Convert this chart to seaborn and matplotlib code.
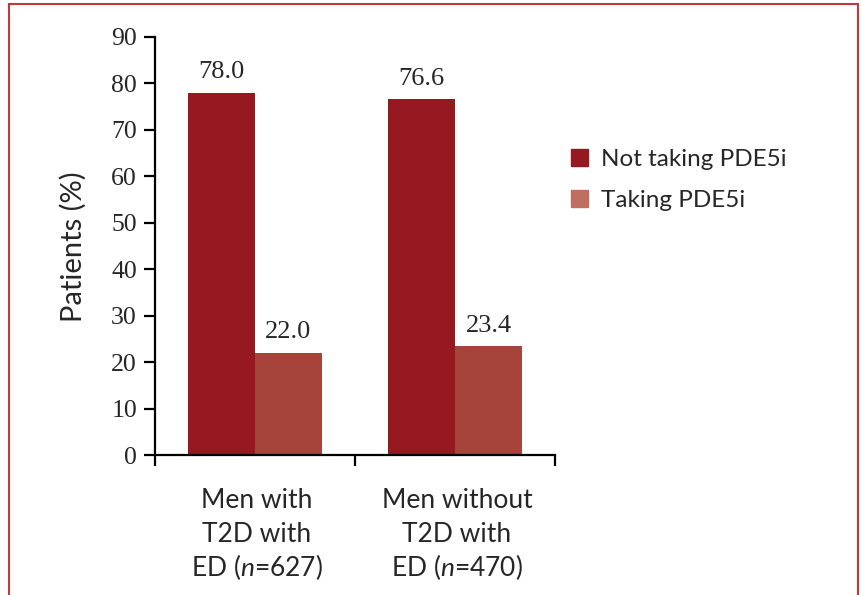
import matplotlib
matplotlib.use("Agg")
import matplotlib.pyplot as plt
import matplotlib.patches as mpatches
import matplotlib.transforms as mtransforms
import seaborn as sns
import pandas as pd

groups = ["Men with T2D with ED (n=627)", "Men without T2D with ED (n=470)"]
group_lines = [["Men with", "T2D with", "ED ($n$=627)"],
               ["Men without", "T2D with", "ED ($n$=470)"]]
series = ["Not taking PDE5i", "Taking PDE5i"]
not_taking = [78.0, 76.6]
taking = [22.0, 23.4]
yticks = [0, 10, 20, 30, 40, 50, 60, 70, 80, 90]

bar_colors = ["#961820", "#a6443c"]
legend_colors = ["#961820", "#bf6f60"]

df = pd.DataFrame({
    "group": groups * 2,
    "series": [series[0]] * 2 + [series[1]] * 2,
    "value": not_taking + taking,
})

sns.set_style("white")
plt.rcParams["font.family"] = ["Lato", "DejaVu Sans"]
plt.rcParams["mathtext.fontset"] = "custom"
plt.rcParams["mathtext.it"] = "Lato:italic"
plt.rcParams["mathtext.rm"] = "Lato"

fig = plt.figure(figsize=(8.62, 5.95), dpi=100)
ax = fig.add_axes([155 / 862, 1 - 455 / 595, 400 / 862, 418 / 595])

sns.barplot(data=df, x="group", y="value", hue="series", order=groups,
            hue_order=series, palette=bar_colors, width=0.67, ax=ax,
            legend=False, saturation=1, edgecolor="none", linewidth=0)

ax.set_xlim(-0.5, 1.5)
ax.set_ylim(0, 90)
ax.set_yticks(yticks)
ax.set_yticklabels([str(t) for t in yticks], family="Liberation Serif", fontsize=18.5)
ax.set_xticks([-0.5, 0.5, 1.5])
ax.set_xticklabels([])

trans = mtransforms.blended_transform_factory(ax.transData, fig.transFigure)
line_y = [501, 534, 567]
for i, lines in enumerate(group_lines):
    for ln, ypx in zip(lines, line_y):
        ax.text(i + 0.01, 1 - ypx / 595, ln, ha="center", va="center", fontsize=19,
                transform=trans)

for container in ax.containers:
    ax.bar_label(container, fmt="%.1f", padding=7, family="Liberation Serif", fontsize=19)

ax.set_xlabel("")
ax.set_ylabel("")
fig.text(73 / 862, 1 - 247 / 595, "Patients (%)", rotation=90, ha="center",
         va="center", fontsize=21)
for s in ["top", "right"]:
    ax.spines[s].set_visible(False)
for s in ["left", "bottom"]:
    ax.spines[s].set_linewidth(1.6)
    ax.spines[s].set_color("black")
ax.tick_params(axis="both", direction="out", length=8, width=1.6, color="black",
               left=True, bottom=True, pad=5)

handles = [mpatches.Patch(color=c, label=l) for c, l in zip(legend_colors, series)]
fig.legend(handles=handles, loc="center left", bbox_to_anchor=(549 / 862, 1 - 180 / 595),
           frameon=False, fontsize=17.5, handlelength=0.7, handleheight=0.7,
           handletextpad=0.55, labelspacing=0.8)

border = mpatches.Rectangle((9 / 862, -0.05), 849 / 862, 1.05 - 4 / 595,
                            transform=fig.transFigure, fill=False,
                            edgecolor="#c0393f", linewidth=1.5, clip_on=False)
fig.patches.append(border)

fig.savefig("out.png", dpi=100)
